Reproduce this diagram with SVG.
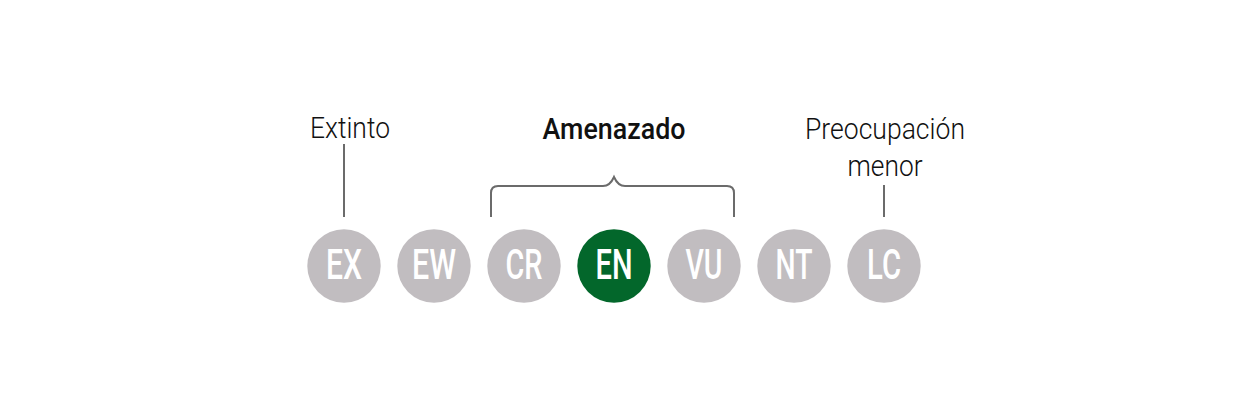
<svg xmlns="http://www.w3.org/2000/svg" width="1260" height="401" viewBox="0 0 1260 401">
<style>
.c{fill:#c1bdc0}
.g{fill:#03672b}
.t{font-family:Roboto,"Liberation Sans",sans-serif;font-size:42px;font-weight:500;fill:#fff;text-anchor:middle}
.l{font-family:Roboto,"Liberation Sans",sans-serif;font-size:29px;font-weight:300;fill:#111;text-anchor:middle}
.b{font-weight:500}
.k{fill:none;stroke:#6b6b6b;stroke-width:2}
</style>
<rect width="1260" height="401" fill="#fff"/>
<g id="connectors">
<path class="k" d="M344,144V217"/>
<path class="k" d="M884,185V217"/>
<path class="k" d="M491,217V193Q491,186 498,186H603Q610,186 614,177Q618,186 625,186H727Q734,186 734,193V217"/>
</g>
<g id="labels">
<text class="l" x="350" y="138" textLength="80" lengthAdjust="spacingAndGlyphs">Extinto</text>
<text class="l b" x="614" y="139" textLength="143" lengthAdjust="spacingAndGlyphs">Amenazado</text>
<text class="l" x="885" y="139" textLength="160" lengthAdjust="spacingAndGlyphs">Preocupación</text>
<text class="l" x="885" y="176" textLength="75" lengthAdjust="spacingAndGlyphs">menor</text>
</g>
<g id="EX"><circle class="c" cx="344" cy="266" r="36.7"/><text class="t" x="344" y="279" textLength="36" lengthAdjust="spacingAndGlyphs">EX</text></g>
<g id="EW"><circle class="c" cx="434" cy="266" r="36.7"/><text class="t" x="434" y="279" textLength="44" lengthAdjust="spacingAndGlyphs">EW</text></g>
<g id="CR"><circle class="c" cx="524" cy="266" r="36.7"/><text class="t" x="524" y="279" textLength="37" lengthAdjust="spacingAndGlyphs">CR</text></g>
<g id="EN"><circle class="g" cx="614" cy="266" r="36.7"/><text class="t" x="614" y="279" textLength="37" lengthAdjust="spacingAndGlyphs">EN</text></g>
<g id="VU"><circle class="c" cx="704" cy="266" r="36.7"/><text class="t" x="704" y="279" textLength="37" lengthAdjust="spacingAndGlyphs">VU</text></g>
<g id="NT"><circle class="c" cx="794" cy="266" r="36.7"/><text class="t" x="794" y="279" textLength="37" lengthAdjust="spacingAndGlyphs">NT</text></g>
<g id="LC"><circle class="c" cx="884" cy="266" r="36.7"/><text class="t" x="884" y="279" textLength="34" lengthAdjust="spacingAndGlyphs">LC</text></g>
</svg>
